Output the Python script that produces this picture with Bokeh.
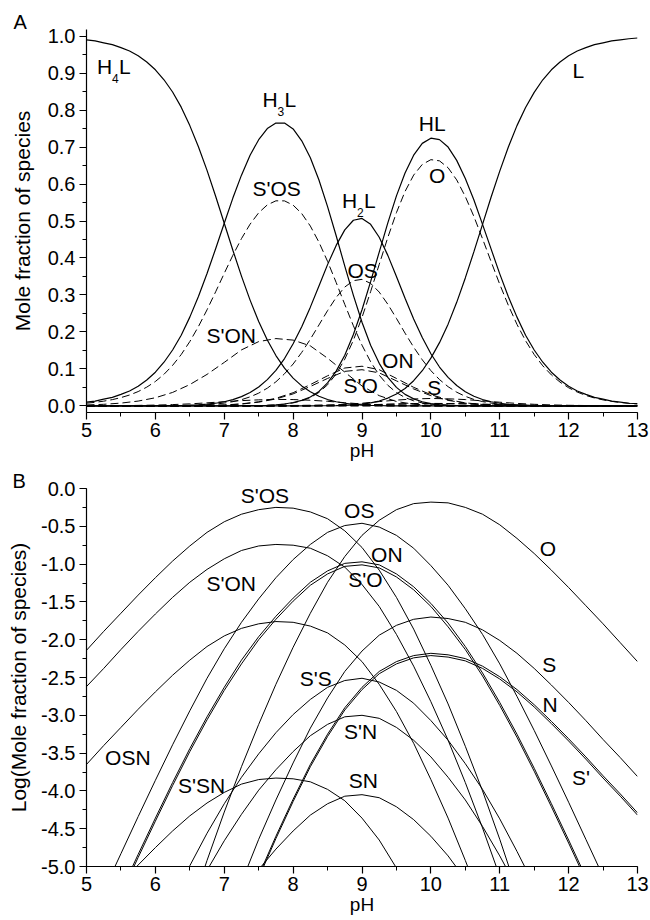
import numpy as np
from bokeh.plotting import figure
from bokeh.layouts import column
from bokeh.models import Range1d, SingleIntervalTicker, PrintfTickFormatter, Label
from bokeh.embed import file_html
from bokeh.resources import INLINE

FONT = "Liberation Sans"

# ---------------- data ----------------
# fine pH grid used for the panel A curves
ph_fine = [5.0, 5.125, 5.25, 5.375, 5.5, 5.625, 5.75, 5.875, 6.0, 6.125, 6.25, 6.375,
           6.5, 6.625, 6.75, 6.875, 7.0, 7.125, 7.25, 7.375, 7.5, 7.625, 7.75, 7.875,
           8.0, 8.125, 8.25, 8.375, 8.5, 8.625, 8.75, 8.875, 9.0, 9.125, 9.25, 9.375,
           9.5, 9.625, 9.75, 9.875, 10.0, 10.125, 10.25, 10.375, 10.5, 10.625, 10.75,
           10.875, 11.0, 11.125, 11.25, 11.375, 11.5, 11.625, 11.75, 11.875, 12.0,
           12.125, 12.25, 12.375, 12.5, 12.625, 12.75, 12.875, 13.0]

# Panel A: mole fractions of the protonated forms (solid curves)
frac_H4L = [0.990, 0.987, 0.982, 0.977, 0.969, 0.960, 0.947, 0.930, 0.909, 0.882, 0.849,
            0.808, 0.758, 0.701, 0.637, 0.567, 0.494, 0.421, 0.351, 0.286, 0.228, 0.178,
            0.136, 0.102, 0.075, 0.054, 0.038, 0.026, 0.017, 0.011, 0.007, 0.004, 0.002,
            0.001, 0.001, 0.0, 0.0, 0.0, 0.0, 0.0, 0.0, 0.0, 0.0, 0.0, 0.0, 0.0, 0.0,
            0.0, 0.0, 0.0, 0.0, 0.0, 0.0, 0.0, 0.0, 0.0, 0.0, 0.0, 0.0, 0.0, 0.0, 0.0,
            0.0, 0.0, 0.0]
frac_H3L = [0.010, 0.013, 0.018, 0.023, 0.031, 0.040, 0.053, 0.070, 0.091, 0.118, 0.151,
            0.191, 0.240, 0.296, 0.358, 0.425, 0.494, 0.562, 0.624, 0.678, 0.720, 0.750,
            0.765, 0.765, 0.749, 0.717, 0.671, 0.611, 0.539, 0.460, 0.378, 0.299, 0.226,
            0.164, 0.115, 0.077, 0.050, 0.031, 0.019, 0.011, 0.006, 0.0035, 0.002, 0.001,
            0.0005, 0.0003, 0.0001, 0.0, 0.0, 0.0, 0.0, 0.0, 0.0, 0.0, 0.0, 0.0, 0.0,
            0.0, 0.0, 0.0, 0.0, 0.0, 0.0, 0.0, 0.0]
frac_H2L = [0.0, 0.0, 0.0, 0.0, 0.0, 0.0, 0.0001, 0.0001, 0.0002, 0.0004, 0.0006, 0.0010,
            0.0017, 0.0028, 0.0045, 0.0071, 0.011, 0.017, 0.025, 0.036, 0.051, 0.071,
            0.096, 0.128, 0.168, 0.214, 0.267, 0.324, 0.382, 0.434, 0.476, 0.502, 0.507,
            0.491, 0.456, 0.407, 0.350, 0.291, 0.235, 0.185, 0.141, 0.105, 0.077, 0.055,
            0.038, 0.026, 0.017, 0.011, 0.007, 0.004, 0.003, 0.002, 0.001, 0.0005, 0.0003,
            0.0002, 0.0001, 0.0001, 0.0, 0.0, 0.0, 0.0, 0.0, 0.0, 0.0]
frac_HL = [0.0, 0.0, 0.0, 0.0, 0.0, 0.0, 0.0, 0.0, 0.0, 0.0, 0.0, 0.0, 0.0, 0.0, 0.0, 0.0,
           0.0001, 0.0001, 0.0002, 0.0004, 0.0008, 0.0015, 0.003, 0.005, 0.009, 0.015,
           0.024, 0.039, 0.062, 0.094, 0.137, 0.193, 0.260, 0.336, 0.416, 0.495, 0.568,
           0.630, 0.678, 0.710, 0.724, 0.720, 0.700, 0.664, 0.615, 0.557, 0.491, 0.424,
           0.357, 0.295, 0.240, 0.191, 0.151, 0.118, 0.091, 0.070, 0.053, 0.040, 0.031,
           0.023, 0.018, 0.013, 0.010, 0.007, 0.006]
frac_L = [0.0, 0.0, 0.0, 0.0, 0.0, 0.0, 0.0, 0.0, 0.0, 0.0, 0.0, 0.0, 0.0, 0.0, 0.0, 0.0,
          0.0, 0.0, 0.0, 0.0, 0.0, 0.0, 0.0, 0.0, 0.0, 0.0, 0.0001, 0.0002, 0.0003,
          0.0007, 0.0014, 0.0026, 0.0046, 0.008, 0.013, 0.021, 0.032, 0.047, 0.068,
          0.095, 0.129, 0.171, 0.221, 0.280, 0.346, 0.417, 0.491, 0.565, 0.635, 0.700,
          0.758, 0.807, 0.848, 0.882, 0.909, 0.930, 0.947, 0.960, 0.969, 0.977, 0.982,
          0.987, 0.990, 0.993, 0.995]

# Panel A: the three large dashed microspecies curves
frac_SpOS = [0.0072, 0.0095, 0.0127, 0.0168, 0.0223, 0.0293, 0.0386, 0.0506, 0.0659,
             0.0853, 0.1094, 0.1388, 0.1739, 0.2145, 0.2598, 0.3085, 0.3584, 0.4073,
             0.4524, 0.4914, 0.5223, 0.5436, 0.5546, 0.5544, 0.5429, 0.5201, 0.4863,
             0.4426, 0.3908, 0.3336, 0.2743, 0.2166, 0.1641, 0.1192, 0.0830, 0.0556,
             0.0359, 0.0224, 0.0136, 0.0080, 0.0046, 0.0025, 0.0014, 0.0007, 0.0004,
             0.0002, 0.0001, 0.0, 0.0, 0.0, 0.0, 0.0, 0.0, 0.0, 0.0, 0.0, 0.0, 0.0,
             0.0, 0.0, 0.0, 0.0, 0.0, 0.0, 0.0]
frac_OS = [0.0, 0.0, 0.0, 0.0, 0.0, 0.0, 0.0001, 0.0001, 0.0001, 0.0002, 0.0004, 0.0007,
           0.0011, 0.0019, 0.0030, 0.0048, 0.0075, 0.0113, 0.0167, 0.0243, 0.0344,
           0.0478, 0.0650, 0.0867, 0.1132, 0.1446, 0.1803, 0.2188, 0.2576, 0.2932,
           0.3214, 0.3386, 0.3422, 0.3313, 0.3077, 0.2748, 0.2365, 0.1967, 0.1587,
           0.1246, 0.0952, 0.0711, 0.0518, 0.0369, 0.0257, 0.0173, 0.0115, 0.0074,
           0.0047, 0.0029, 0.0018, 0.0011, 0.0006, 0.0003, 0.0002, 0.0001, 0.0001,
           0.0, 0.0, 0.0, 0.0, 0.0, 0.0, 0.0, 0.0]
frac_O = [0.0, 0.0, 0.0, 0.0, 0.0, 0.0, 0.0, 0.0, 0.0, 0.0, 0.0, 0.0, 0.0, 0.0, 0.0, 0.0,
          0.0001, 0.0001, 0.0002, 0.0004, 0.0007, 0.0014, 0.0026, 0.0045, 0.0079,
          0.0135, 0.0224, 0.0363, 0.0569, 0.0864, 0.1263, 0.1775, 0.2392, 0.3088,
          0.3826, 0.4555, 0.5227, 0.5799, 0.6242, 0.6530, 0.6659, 0.6627, 0.6440,
          0.6111, 0.5661, 0.5121, 0.4520, 0.3899, 0.3288, 0.2717, 0.2204, 0.1761,
          0.1388, 0.1082, 0.0836, 0.0642, 0.0489, 0.0373, 0.0282, 0.0213, 0.0161,
          0.0121, 0.0091, 0.0068, 0.0052]

# pH grid of panel B
ph = [5.0, 5.25, 5.5, 5.75, 6.0, 6.25, 6.5, 6.75, 7.0, 7.25, 7.5, 7.75, 8.0,
      8.25, 8.5, 8.75, 9.0, 9.25, 9.5, 9.75, 10.0, 10.25, 10.5, 10.75, 11.0,
      11.25, 11.5, 11.75, 12.0, 12.25, 12.5, 12.75, 13.0]

N_ = None
# Panel B: log10(mole fraction) of the microspecies (None = below the plotted range)
log_SpOS = [-2.14, -1.89, -1.65, -1.41, -1.18, -0.96, -0.76, -0.58, -0.44, -0.34,
            -0.28, -0.25, -0.26, -0.31, -0.40, -0.56, -0.78, -1.08, -1.44, -1.86,
            -2.34, -2.85, -3.41, -4.00, -4.64, -5.32, N_, N_, N_, N_, N_, N_, N_]
log_SpON = [-2.62, -2.38, -2.13, -1.89, -1.66, -1.44, -1.24, -1.07, -0.93, -0.82,
            -0.76, -0.74, -0.75, -0.79, -0.89, -1.04, -1.27, -1.56, -1.93, -2.35,
            -2.82, -3.33, -3.89, -4.49, -5.13, N_, N_, N_, N_, N_, N_, N_, N_]
log_OSN = [-3.65, -3.40, -3.16, -2.92, -2.69, -2.47, -2.27, -2.09, -1.95, -1.85,
           -1.79, -1.76, -1.77, -1.82, -1.91, -2.07, -2.29, -2.59, -2.95, -3.37,
           -3.85, -4.36, -4.92, -5.51, N_, N_, N_, N_, N_, N_, N_, N_, N_]
log_SpSN = [N_, N_, -5.22, -4.98, -4.75, -4.53, -4.33, -4.16, -4.02, -3.91,
            -3.85, -3.83, -3.84, -3.88, -3.98, -4.13, -4.36, -4.65, -5.02, N_,
            N_, N_, N_, N_, N_, N_, N_, N_, N_, N_, N_, N_, N_]
log_OS = [N_, -5.32, -4.83, -4.34, -3.86, -3.39, -2.94, -2.51, -2.12, -1.77,
          -1.46, -1.18, -0.94, -0.74, -0.58, -0.49, -0.46, -0.51, -0.62, -0.79,
          -1.02, -1.28, -1.59, -1.93, -2.32, -2.75, -3.20, -3.67, -4.15, -4.64,
          -5.13, N_, N_]
log_ON = [N_, N_, -5.33, -4.84, -4.36, -3.89, -3.44, -3.02, -2.63, -2.27,
          -1.96, -1.69, -1.45, -1.24, -1.09, -0.99, -0.97, -1.01, -1.13, -1.30,
          -1.52, -1.78, -2.09, -2.44, -2.83, -3.25, -3.70, -4.17, -4.65, -5.14,
          N_, N_, N_]
log_SpO = [N_, N_, -5.37, -4.88, -4.40, -3.93, -3.48, -3.06, -2.67, -2.32,
           -2.00, -1.73, -1.49, -1.28, -1.13, -1.03, -1.01, -1.05, -1.17, -1.34,
           -1.56, -1.83, -2.13, -2.48, -2.87, -3.29, -3.74, -4.21, -4.69, -5.18,
           N_, N_, N_]
log_SpS = [N_, N_, N_, N_, N_, -5.44, -4.99, -4.56, -4.17, -3.82,
           -3.51, -3.23, -2.99, -2.79, -2.63, -2.54, -2.51, -2.56, -2.67, -2.84,
           -3.07, -3.33, -3.64, -3.98, -4.37, -4.80, -5.25, N_, N_, N_, N_, N_, N_]
log_SpN = [N_, N_, N_, N_, N_, N_, -5.47, -5.05, -4.66, -4.31,
           -3.99, -3.72, -3.48, -3.27, -3.12, -3.02, -3.00, -3.04, -3.16, -3.33,
           -3.55, -3.82, -4.12, -4.47, -4.86, -5.28, N_, N_, N_, N_, N_, N_, N_]
log_SN = [N_, N_, N_, N_, N_, N_, N_, N_, N_, -5.36,
          -5.04, -4.77, -4.53, -4.32, -4.17, -4.07, -4.05, -4.09, -4.21, -4.38,
          -4.60, -4.86, -5.17, N_, N_, N_, N_, N_, N_, N_, N_, N_, N_]
log_O = [N_, N_, N_, N_, N_, N_, -5.60, -4.92, -4.28, -3.68,
         -3.12, -2.59, -2.10, -1.65, -1.24, -0.90, -0.62, -0.42, -0.28, -0.20,
         -0.18, -0.19, -0.25, -0.34, -0.48, -0.66, -0.86, -1.08, -1.31, -1.55,
         -1.79, -2.04, -2.29]
log_S = [N_, N_, N_, N_, N_, N_, N_, N_, N_, -5.21,
         -4.64, -4.12, -3.63, -3.17, -2.77, -2.42, -2.15, -1.94, -1.81, -1.73,
         -1.70, -1.72, -1.77, -1.87, -2.01, -2.18, -2.38, -2.60, -2.83, -3.07,
         -3.32, -3.56, -3.81]
log_N = [N_, N_, N_, N_, N_, N_, N_, N_, N_, N_,
         -5.12, -4.60, -4.11, -3.65, -3.25, -2.90, -2.63, -2.42, -2.29, -2.21,
         -2.18, -2.20, -2.25, -2.35, -2.49, -2.66, -2.86, -3.08, -3.31, -3.55,
         -3.80, -4.04, -4.29]
log_Sp = [N_, N_, N_, N_, N_, N_, N_, N_, N_, N_,
          -5.15, -4.63, -4.14, -3.68, -3.28, -2.93, -2.66, -2.45, -2.32, -2.24,
          -2.21, -2.23, -2.28, -2.38, -2.52, -2.69, -2.89, -3.11, -3.34, -3.58,
          -3.83, -4.07, -4.32]

solid_A = [frac_H4L, frac_H3L, frac_H2L, frac_HL, frac_L]
dashed_A_fine = [frac_SpOS, frac_OS, frac_O]
# the smaller dashed curves of panel A are taken from the panel B data
dashed_A_from_B = [log_SpON, log_OSN, log_SpSN, log_ON, log_SpO, log_SpS, log_SpN,
                   log_SN, log_S, log_N, log_Sp]
species_B = [log_SpOS, log_SpON, log_OSN, log_SpSN, log_OS, log_ON, log_SpO,
             log_SpS, log_SpN, log_SN, log_O, log_S, log_N, log_Sp]

# label texts and their anchor positions (data coordinates)
labels_A = [("S'OS", 7.76, 0.569), ("OS", 9.01, 0.348), ("S'ON", 7.10, 0.170),
            ("ON", 9.52, 0.104), ("S'O", 8.98, 0.036), ("S", 10.05, 0.032),
            ("HL", 10.02, 0.745), ("O", 10.09, 0.604), ("L", 12.14, 0.888)]
sub_labels_A = [("H", "4", "L", 5.153, 0.900), ("H", "3", "L", 7.557, 0.810),
                ("H", "2", "L", 8.711, 0.537)]
labels_B = [("S'OS", 7.59, -0.186), ("OS", 8.96, -0.382), ("ON", 9.36, -0.970),
            ("S'O", 9.05, -1.297), ("O", 11.70, -0.882), ("S", 11.72, -2.421),
            ("N", 11.73, -2.952), ("S'ON", 7.10, -1.349), ("S'S", 8.33, -2.604),
            ("OSN", 5.60, -3.650), ("S'SN", 6.67, -4.020), ("S'N", 8.98, -3.301),
            ("SN", 9.02, -3.954), ("S'", 12.18, -3.919)]

xf = np.array(ph_fine, dtype=float)
xb = np.array(ph, dtype=float)

TICK_FS = "20px"
XTITLE_FS = "19px"
YTITLE_FS = "21px"
LABEL_FS = "21px"
LIFT = 7  # pixel lift that puts the label baseline on its anchor


def style_axes(p, yfmt, ytitle_standoff):
    p.grid.visible = False
    p.outline_line_color = None
    for ax in (p.xaxis[0], p.yaxis[0]):
        ax.axis_line_width = 1.2
        ax.axis_line_color = "black"
        ax.major_tick_line_width = 1.2
        ax.minor_tick_line_width = 1.0
        ax.major_tick_line_color = "black"
        ax.minor_tick_line_color = "black"
        ax.major_tick_in = 0
        ax.major_tick_out = 7
        ax.minor_tick_in = 0
        ax.minor_tick_out = 4
        ax.major_label_text_font = FONT
        ax.major_label_text_font_size = TICK_FS
        ax.major_label_text_color = "black"
        ax.axis_label_text_font = FONT
        ax.axis_label_text_font_style = "normal"
        ax.axis_label_text_color = "black"
    p.xaxis.axis_label_text_font_size = XTITLE_FS
    p.yaxis.axis_label_text_font_size = YTITLE_FS
    p.xaxis.ticker = SingleIntervalTicker(interval=1, num_minor_ticks=2)
    p.xaxis.formatter = PrintfTickFormatter(format="%d")
    p.yaxis.formatter = PrintfTickFormatter(format=yfmt)
    p.xaxis.major_label_standoff = 3
    p.yaxis.major_label_standoff = 4
    p.xaxis.axis_label_standoff = 0
    p.yaxis.axis_label_standoff = ytitle_standoff
    p.title.text_font = FONT
    p.title.text_font_size = "20px"
    p.title.text_font_style = "normal"
    p.title.text_color = "black"
    p.title.align = "left"


def add_label(p, t, lx, ly, size=LABEL_FS, align="center", xo=0, yo=LIFT):
    p.add_layout(Label(x=lx, y=ly, text=t, x_offset=xo, y_offset=yo, text_align=align,
                       text_baseline="alphabetic", text_font=FONT,
                       text_font_size=size, text_color="black"))


# ---------------- panel A ----------------
pA = figure(width=650, height=468, x_range=Range1d(5, 13), y_range=Range1d(-0.018, 1.018),
            output_backend="svg", toolbar_location=None,
            min_border_left=83, min_border_right=13, min_border_top=29, min_border_bottom=56,
            x_axis_label="pH", y_axis_label="Mole fraction of species", title="A")
style_axes(pA, "%.1f", 11)
pA.title.offset = -73
pA.title.standoff = -6
pA.yaxis.ticker = SingleIntervalTicker(interval=0.1, num_minor_ticks=2)

for s in dashed_A_from_B:
    fr = np.nan_to_num(10.0 ** np.array(s, dtype=float), nan=0.0)
    pA.line(xb, fr, line_color="black", line_width=1.0, line_dash="8 4")
for f in dashed_A_fine:
    pA.line(xf, np.array(f, dtype=float), line_color="black", line_width=1.0, line_dash="8 4")
for f in solid_A:
    pA.line(xf, np.array(f, dtype=float), line_color="black", line_width=1.2)

for t, lx, ly in labels_A:
    add_label(pA, t, lx, ly)
for h, sub, l, lx, ly in sub_labels_A:
    add_label(pA, h, lx, ly, align="left")
    add_label(pA, sub, lx, ly, size="12px", align="left", xo=15, yo=-5)
    add_label(pA, l, lx, ly, align="left", xo=22)

# ---------------- panel B ----------------
pB = figure(width=650, height=452, x_range=Range1d(5, 13), y_range=Range1d(-5, 0),
            output_backend="svg", toolbar_location=None,
            min_border_left=86, min_border_right=12, min_border_top=20, min_border_bottom=54,
            x_axis_label="pH", y_axis_label="Log(Mole fraction of species)", title="B")
style_axes(pB, "%.1f", 8)
pB.title.offset = -74
pB.title.standoff = -6
pB.yaxis.ticker = SingleIntervalTicker(interval=0.5, num_minor_ticks=2)

for s in species_B:
    pB.line(xb, np.array(s, dtype=float), line_color="black", line_width=1.0)

for t, lx, ly in labels_B:
    add_label(pB, t, lx, ly)

layout = column(pA, pB)
open("out.html", "w").write(file_html(layout, INLINE))
